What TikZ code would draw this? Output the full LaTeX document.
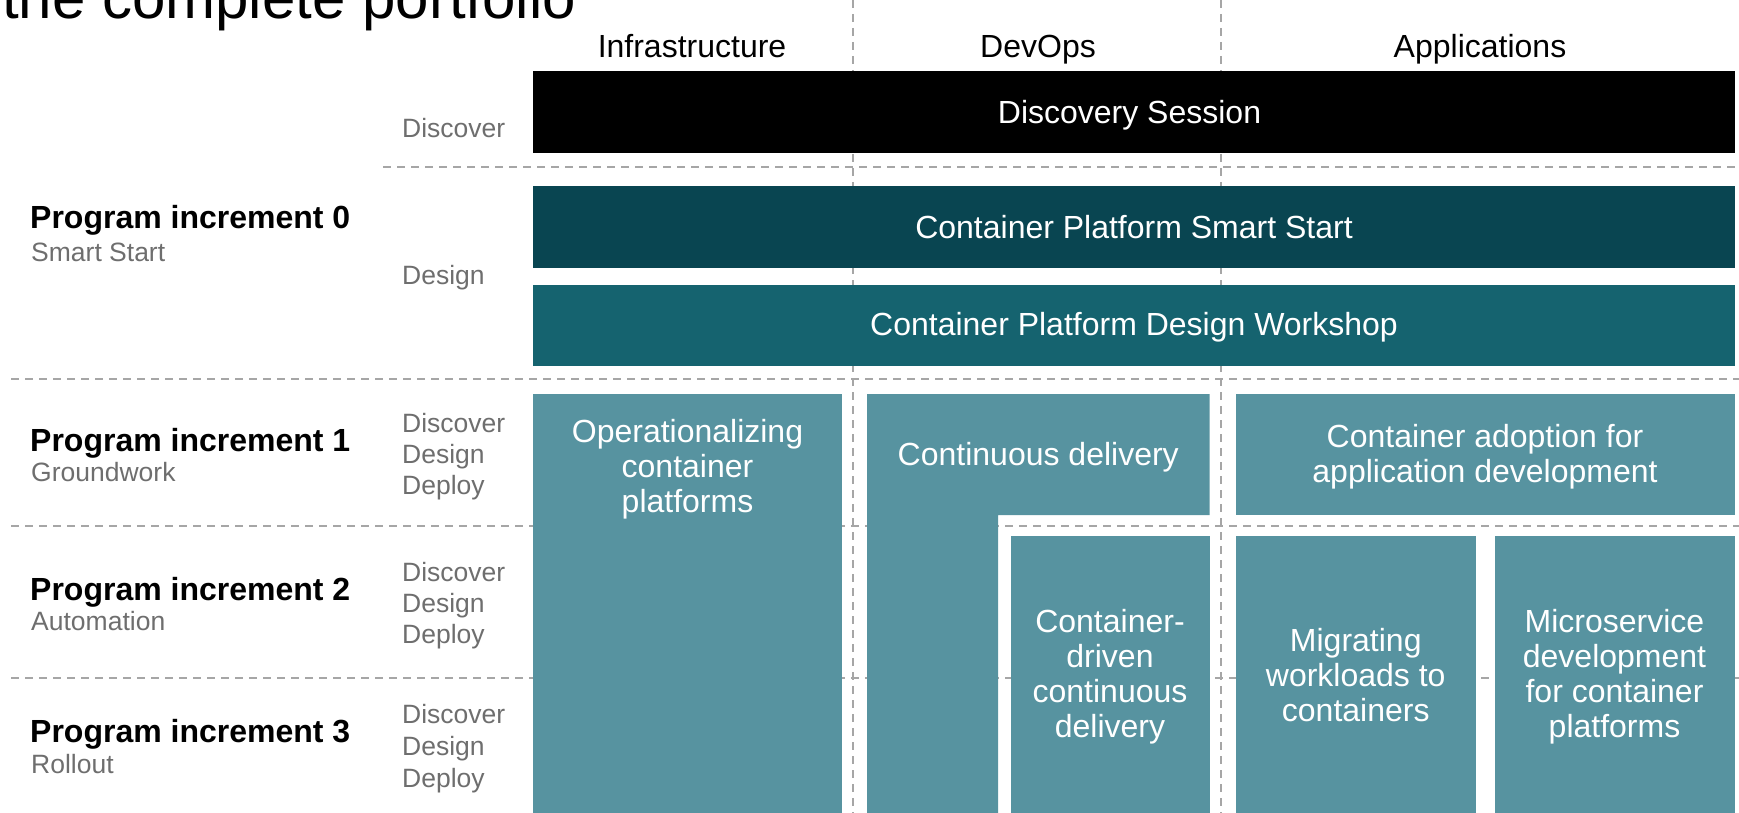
\documentclass[tikz,border=0pt]{standalone}
\usepackage{fontspec}
\setmainfont{Liberation Sans}
\definecolor{tealdark}{HTML}{094551}
\definecolor{tealmid}{HTML}{15636F}
\definecolor{teallight}{HTML}{5793A0}
\definecolor{labgray}{HTML}{6E6E6E}
\definecolor{dashgray}{HTML}{A6A6A6}
\newcommand\bs{\rule[-0.13em]{0pt}{0.98em}}
\begin{document}
\begin{tikzpicture}[x=1pt,y=-1pt,
  gridline/.style={draw=dashgray, line width=2pt, dash pattern=on 8pt off 6pt},
  box/.style={text=white, font=\fontsize{32}{35}\selectfont, align=center, inner sep=0pt, outer sep=0pt},
  head/.style={anchor=base, inner sep=0pt, font=\fontsize{32}{35}\selectfont},
  pilabel/.style={anchor=base west, inner sep=0pt, font=\bfseries\fontsize{32}{35}\selectfont},
  pisub/.style={anchor=base west, inner sep=0pt, text=labgray, font=\fontsize{26.5}{32}\selectfont},
  phase/.style={anchor=base west, inner sep=0pt, text=labgray, font=\fontsize{26.5}{32}\selectfont}
]
\useasboundingbox (0,0) rectangle (1739,813);
\clip (0,0) rectangle (1739,813);

% title (cut off at top, as in the reference)
\node[anchor=base west, inner sep=0pt, font=\fontsize{60}{70}\selectfont] (title) at (2,18.5) {the complete portfolio};

% grid lines
\coordinate (v1t) at (852.5,0);   \coordinate (v1b) at (852.5,813);
\coordinate (v2t) at (1221,0);    \coordinate (v2b) at (1221,813);
\coordinate (h0l) at (383,167.5); \coordinate (h0r) at (1739,167.5);
\coordinate (h1l) at (11,379);    \coordinate (h1r) at (1739,379);
\coordinate (h2l) at (11,526);    \coordinate (h2r) at (1739,526);
\coordinate (h3l) at (11,677.5);  \coordinate (h3r) at (1739,677.5);
\draw[gridline] (v1t) -- (v1b);
\draw[gridline] (v2t) -- (v2b);
\draw[gridline] (h0l) -- (h0r);
\draw[gridline] (h1l) -- (h1r);
\draw[gridline] (h2l) -- (h2r);
\draw[gridline] (h3l) -- (h3r);

% column headers
\node[head] (colinf) at (692,58) {Infrastructure};
\node[head] (coldev) at (1038,58) {DevOps};
\node[head] (colapp) at (1480,58) {Applications};

% top wide boxes
\node[box, fill=black, minimum width=1202pt, minimum height=82pt] (disc) at (1134,112) {};
\node[box] (disctext) at (1129.5,113.5) {\bs Discovery Session};
\node[box, fill=tealdark, minimum width=1202pt, minimum height=82.7pt] (smart) at (1134,227) {\bs Container Platform Smart Start};
\node[box, fill=tealmid, minimum width=1202pt, minimum height=81.7pt] (design) at (1134,325.5) {\bs Container Platform Design Workshop};

% Infrastructure
\node[box, fill=teallight, minimum width=309pt, minimum height=419pt] (ops) at (687.5,603.5) {};
\node[box] (opstext) at (687.5,467.5) {\bs Operationalizing\\\bs container\\\bs platforms};

% DevOps
\fill[teallight] (867,394) -- (1209.5,394) -- (1209.5,515) -- (998,515) -- (998,813) -- (867,813) -- cycle;
\node[box] (cd) at (1038.25,455.5) {\bs Continuous delivery};
\node[box, fill=teallight, minimum width=199pt, minimum height=277pt] (ccd) at (1110,674.5) {\bs Container-\\\bs driven\\\bs continuous\\\bs delivery};

% Applications
\node[box, fill=teallight, minimum width=499pt, minimum height=121pt] (adopt) at (1485,454.5) {\bs Container adoption for\\\bs application development};
\node[box, fill=teallight, minimum width=240.5pt, minimum height=277pt] (migr) at (1355.75,674.5) {\bs Migrating\\\bs workloads to\\\bs containers};
\node[box, fill=teallight, minimum width=240pt, minimum height=277pt] (micro) at (1614.5,674.5) {\bs Microservice\\\bs development\\\bs for container\\\bs platforms};

% program increments
\node[pilabel] (pi0) at (30,229) {Program increment 0};
\node[pisub] (pi0s) at (31,261) {Smart Start};
\node[pilabel] (pi1) at (30,451) {Program increment 1};
\node[pisub] (pi1s) at (31,481) {Groundwork};
\node[pilabel] (pi2) at (30,600) {Program increment 2};
\node[pisub] (pi2s) at (31,630) {Automation};
\node[pilabel] (pi3) at (30,742) {Program increment 3};
\node[pisub] (pi3s) at (31,773) {Rollout};

% phases
\node[phase] (ph0a) at (402,138) {Discover};
\node[phase] (ph0b) at (402,284.5) {Design};
\node[phase] (ph1a) at (402,432) {Discover};
\node[phase] (ph1b) at (402,463) {Design};
\node[phase] (ph1c) at (402,494) {Deploy};
\node[phase] (ph2a) at (402,581) {Discover};
\node[phase] (ph2b) at (402,612) {Design};
\node[phase] (ph2c) at (402,643) {Deploy};
\node[phase] (ph3a) at (402,723) {Discover};
\node[phase] (ph3b) at (402,755) {Design};
\node[phase] (ph3c) at (402,787) {Deploy};
\end{tikzpicture}
\end{document}
